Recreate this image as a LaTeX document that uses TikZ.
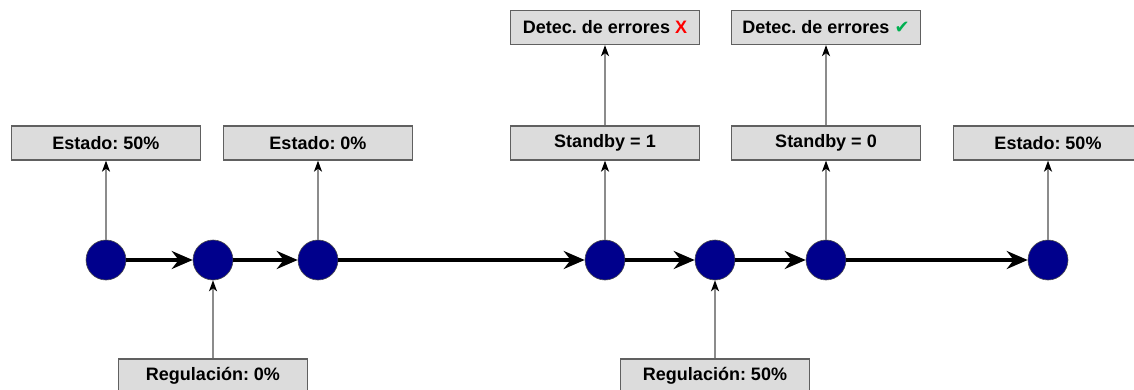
\documentclass[tikz,border=0pt]{standalone}
\usepackage{fontspec}
\setmainfont{Liberation Sans}
\newfontfamily\symfont{DejaVu Sans}
\usetikzlibrary{arrows.meta}
\definecolor{boxgray}{HTML}{DCDCDC}
\definecolor{statenavy}{HTML}{00008C}
\definecolor{okgreen}{HTML}{00B050}
\frenchspacing

\begin{document}
\begin{tikzpicture}[x=1pt,y=-1pt,
  state/.style={circle,fill=statenavy,draw=gray!60!black,line width=0.6pt,minimum size=40pt,inner sep=0pt},
  infobox/.style={draw=gray!75!black,line width=1.3pt,fill=boxgray,minimum width=189pt,minimum height=34pt,inner sep=0pt,font=\bfseries\fontsize{18}{20}\selectfont},
  flow/.style={line width=3.2pt,-{Stealth[length=21pt,width=18pt,inset=7pt]}},
  link/.style={draw=gray!90,line width=1.6pt,-{Stealth[length=11pt,width=8pt,inset=3pt,color=black]}}]
  \useasboundingbox (0,0) rectangle (1134,390);

  \node[state] (s1) at (106,260) {};
  \node[state] (s2) at (213,260) {};
  \node[state] (s3) at (318,260) {};
  \node[state] (s4) at (605,260) {};
  \node[state] (s5) at (715,260) {};
  \node[state] (s6) at (826,260) {};
  \node[state] (s7) at (1048,260) {};

  \node[infobox] (est1) at (106,143) {Estado: 50\%};
  \node[infobox] (est2) at (318,143) {Estado: 0\%};
  \node[infobox] (stb1) at (605,143) {Standby = 1};
  \node[infobox] (stb0) at (826,143) {Standby = 0};
  \node[infobox] (est3) at (1048,143) {Estado: 50\%};
  \node[infobox] (det1) at (605,27.5) {Detec. de errores {\color{red}X}};
  \node[infobox] (det0) at (826,27.5) {Detec. de errores {\symfont\color{okgreen}✔}};
  \node[infobox] (reg1) at (213,376) {Regulación: 0\%};
  \node[infobox] (reg2) at (715,376) {Regulación: 50\%};

  \path[flow]
    (s1) edge (s2)
    (s2) edge (s3)
    (s3) edge (s4)
    (s4) edge (s5)
    (s5) edge (s6)
    (s6) edge (s7);
  \path[link]
    (s1) edge (est1)
    (s3) edge (est2)
    (s4) edge (stb1)
    (s6) edge (stb0)
    (s7) edge (est3)
    (stb1) edge (det1)
    (stb0) edge (det0)
    (reg1) edge (s2)
    (reg2) edge (s5);
\end{tikzpicture}
\end{document}
